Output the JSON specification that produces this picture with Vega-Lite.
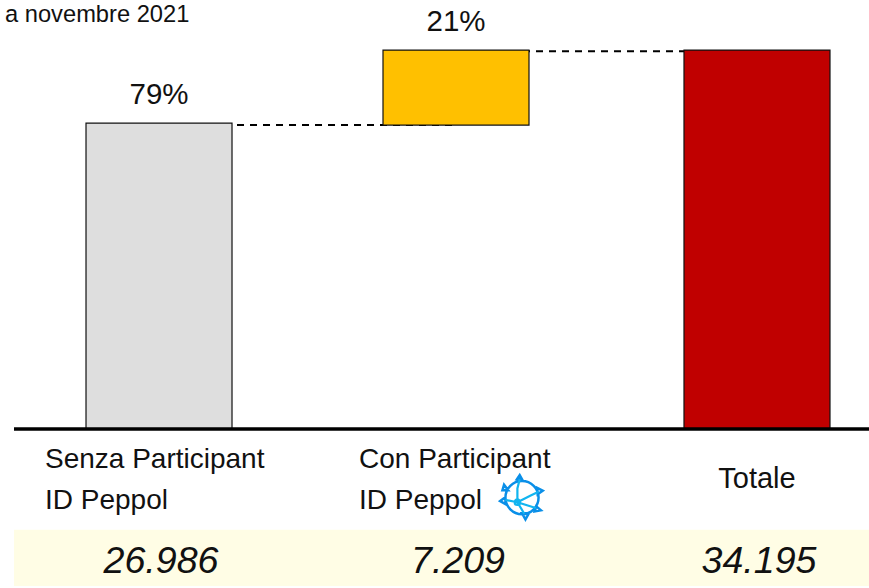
{"$schema":"https://vega.github.io/schema/vega-lite/v6.json","width":855,"height":588,"autosize":"none","padding":{"left":14,"top":0,"right":0,"bottom":0},"background":"white","config":{"view":{"stroke":null},"text":{"font":"Liberation Sans"}},
"data":{"values":[{"cat":"Senza","start":0,"end":80.7,"pct":"79%","n":"26.986","color":"#DEDEDE"},{"cat":"Con","start":80.2,"end":100,"pct":"21%","n":"7.209","color":"#FFC000"},{"cat":"Totale","start":0,"end":100,"pct":"","n":"34.195","color":"#C00000"}]},
"encoding":{"x":{"field":"cat","type":"nominal","axis":null,"scale":{"domain":["Senza","Con","Totale"],"range":[0,888],"paddingInner":0.51,"paddingOuter":0.24}},"y":{"type":"quantitative","scale":{"domain":[-41.95,113.2],"range":[588,0],"nice":false,"zero":false},"axis":null}},
"layer":[
{"data":{"values":[{"a":-26.6,"b":-41.4}]},"mark":{"type":"rect","color":"#FFFDE5"},"encoding":{"x":{},"y":{"field":"a","type":"quantitative"},"y2":{"field":"b"}}},
{"data":{"values":[{"a":"Senza","b":"Con","v":80.2},{"a":"Con","b":"Totale","v":99.7}]},"mark":{"type":"rule","color":"black","strokeWidth":2,"strokeDash":[7,6]},"encoding":{"x":{"field":"a","type":"nominal"},"x2":{"field":"b"},"y":{"field":"v","type":"quantitative"}}},
{"mark":{"type":"bar","stroke":"#111111","strokeWidth":1.2,"width":146,"xOffset":{"expr":"datum.cat=='Con'?-2:0"}},"encoding":{"y":{"field":"start","type":"quantitative"},"y2":{"field":"end"},"color":{"field":"color","type":"nominal","scale":null}}},
{"data":{"values":[{"v":0}]},"mark":{"type":"rule","color":"black","strokeWidth":3.5},"encoding":{"x":{},"y":{"field":"v","type":"quantitative"}}},
{"transform":[{"filter":"datum.pct!=''"}],"mark":{"type":"text","fontSize":29.5,"color":"#111111","baseline":"bottom","dy":-13,"xOffset":{"expr":"datum.cat=='Con'?-2:0"}},"encoding":{"y":{"field":"end","type":"quantitative"},"text":{"field":"pct"}}},
{"mark":{"type":"text","fontSize":37.6,"fontStyle":"italic","color":"#111111","baseline":"middle","dx":{"expr":"datum.cat=='Con'?0:2"}},"encoding":{"y":{"datum":-35.1},"text":{"field":"n"}}},
{"data":{"values":[{"cat":"Senza","t":["Senza Participant","ID Peppol"]}]},"mark":{"type":"text","fontSize":28,"color":"#111111","align":"left","baseline":"middle","dx":-114,"lineHeight":41},"encoding":{"y":{"datum":-8.1},"text":{"field":"t"}}},
{"data":{"values":[{"cat":"Con","t":["Con Participant","ID Peppol"]}]},"mark":{"type":"text","fontSize":28,"color":"#111111","align":"left","baseline":"middle","dx":-99,"lineHeight":41},"encoding":{"y":{"datum":-8.1},"text":{"field":"t"}}},
{"data":{"values":[{"cat":"Totale","t":"Totale"}]},"mark":{"type":"text","fontSize":29,"color":"#111111","baseline":"middle"},"encoding":{"y":{"datum":-13.2},"text":{"field":"t"}}},
{"data":{"values":[{"cat":"Senza","t":"a novembre 2021"}]},"mark":{"type":"text","fontSize":23.7,"color":"#111111","align":"left","baseline":"middle","dx":-154},"encoding":{"y":{"datum":109.3},"text":{"field":"t"}}},
{"data":{"values":[{"cat":"Con"}]},"mark":{"type":"point","shape":"M0.72 0A0.72 0.72 0 1 1 -0.72 0A0.72 0.72 0 1 1 0.72 0M-0.1 -0.98L0 -0.8L-0.22 -0.8ZM-0.78 -0.56L-0.6 -0.32L-0.85 -0.32ZM0.9 -0.3L0.68 -0.15L0.66 -0.42ZM0.82 0.55L0.55 0.6L0.62 0.38ZM0.15 0.95L0 0.68L0.3 0.68ZM-0.95 0.15L-0.72 -0.02L-0.72 0.28Z","size":2116,"stroke":"#0A8FE8","strokeWidth":2.5,"filled":false,"opacity":1,"xOffset":64},"encoding":{"y":{"datum":-18.1}}},
{"data":{"values":[{"cat":"Con"}]},"mark":{"type":"point","shape":"M-0.2 0.2L-0.2 -0.4L-0.1 -0.8M-0.2 0.2L0.4 -0.1L0.72 -0.25M-0.2 0.2L0.6 0.45M-0.2 0.2L0.1 0.7M-0.2 0.2L-0.72 0.1M-0.08 0.2A0.12 0.12 0 1 1 -0.32 0.2A0.12 0.12 0 1 1 -0.08 0.2","size":2116,"stroke":"#12B5F0","strokeWidth":2.2,"filled":false,"opacity":1,"xOffset":64},"encoding":{"y":{"datum":-18.1}}}
]}
